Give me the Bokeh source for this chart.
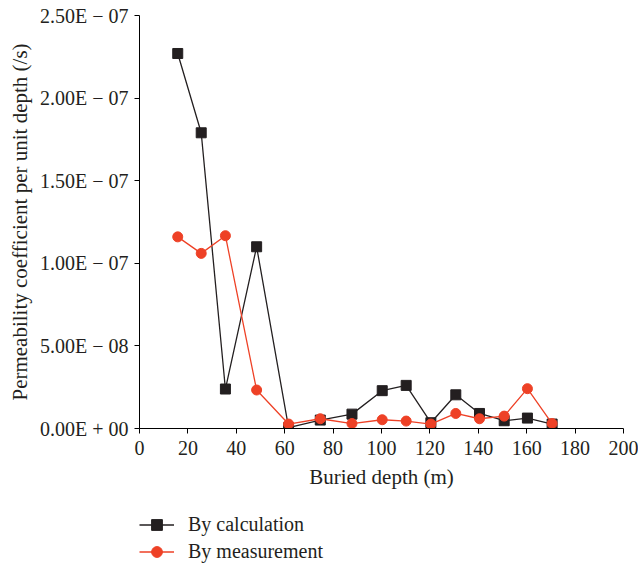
from bokeh.plotting import figure
from bokeh.layouts import column
from bokeh.models import Legend, LegendItem, FixedTicker, ColumnDataSource
from bokeh.embed import file_html
from bokeh.resources import INLINE

depth = [15.8, 25.5, 35.5, 48.4, 61.6, 74.7, 87.8, 100.3, 110.2, 120.4, 130.7, 140.5, 150.7, 160.3, 170.5]
calc = [2.27e-7, 1.79e-7, 2.39e-8, 1.10e-7, 0.5e-9, 5.1e-9, 8.7e-9, 2.29e-8, 2.61e-8, 3.5e-9, 2.04e-8, 9.1e-9, 4.7e-9, 6.3e-9, 2.7e-9]
meas = [1.16e-7, 1.06e-7, 1.167e-7, 2.33e-8, 2.7e-9, 5.9e-9, 3.0e-9, 5.3e-9, 4.5e-9, 2.7e-9, 9.1e-9, 5.9e-9, 7.5e-9, 2.41e-8, 3.0e-9]
series_names = ["By calculation", "By measurement"]

x_ticks = [0, 20, 40, 60, 80, 100, 120, 140, 160, 180, 200]
y_ticks = [0, 5e-8, 1e-7, 1.5e-7, 2e-7, 2.5e-7]
y_tick_labels = ["0.00E + 00", "5.00E \u2212 08", "1.00E \u2212 07", "1.50E \u2212 07", "2.00E \u2212 07", "2.50E \u2212 07"]

FONT = "Liberation Serif"
BLACK = "#231f20"
RED = "#ee4126"

p = figure(width=638, height=500, output_backend="svg", toolbar_location=None,
           x_range=(0, 200), y_range=(0, 2.5e-7),
           min_border_left=139, min_border_right=15, min_border_top=15, min_border_bottom=72)
p.outline_line_color = None
p.grid.grid_line_color = None

src = ColumnDataSource(dict(x=depth, calc=calc, meas=meas))

def draw(fig):
    a = fig.line("x", "calc", source=src, line_color=BLACK, line_width=1.3)
    b = fig.scatter("x", "calc", source=src, marker="square", size=10, fill_color=BLACK, line_color=BLACK)
    c = fig.line("x", "meas", source=src, line_color=RED, line_width=1.3)
    d = fig.scatter("x", "meas", source=src, marker="circle", size=10, fill_color=RED, line_color=RED)
    return a, b, c, d

draw(p)

for ax in (p.xaxis[0], p.yaxis[0]):
    ax.axis_line_color = "black"
    ax.axis_line_width = 1
    ax.major_tick_line_color = "black"
    ax.major_tick_out = 5
    ax.major_tick_in = 0
    ax.minor_tick_line_color = None
    ax.major_label_text_font = FONT
    ax.major_label_text_font_size = "20px"
    ax.major_label_text_color = BLACK
    ax.axis_label_text_font = FONT
    ax.axis_label_text_font_size = "21px"
    ax.axis_label_text_font_style = "normal"
    ax.axis_label_text_color = BLACK

p.xaxis.ticker = FixedTicker(ticks=x_ticks)
p.xaxis.major_label_standoff = 7
p.xaxis.axis_label = "Buried depth (m)"
p.xaxis.axis_label_standoff = 7

p.yaxis.ticker = FixedTicker(ticks=y_ticks)
p.yaxis.major_label_overrides = {t: s for t, s in zip(y_ticks, y_tick_labels)}
p.yaxis.major_label_standoff = 6
p.yaxis.axis_label = "Permeability coefficient per unit depth (/s)"
p.yaxis.axis_label_standoff = 5

# legend panel (series drawn out of its visible range; only the legend shows)
q = figure(width=638, height=67, output_backend="svg", toolbar_location=None,
           x_axis_type=None, y_axis_type=None, x_range=(-2, -1), y_range=(-2, -1),
           min_border_left=0, min_border_right=0, min_border_top=0, min_border_bottom=0)
q.outline_line_color = None
q.grid.grid_line_color = None
ql1, qs1, ql2, qs2 = draw(q)

legend = Legend(items=[LegendItem(label=series_names[0], renderers=[ql1, qs1]),
                       LegendItem(label=series_names[1], renderers=[ql2, qs2])],
                location=(0, 2), orientation="vertical",
                padding=0, spacing=0, margin=0,
                label_height=27, glyph_height=27, glyph_width=35, label_standoff=14,
                label_text_font=FONT, label_text_font_size="20px", label_text_color=BLACK,
                border_line_alpha=0, background_fill_alpha=0)
q.add_layout(legend, "center")

layout = column(p, q, spacing=0)
open("out.html", "w").write(file_html(layout, INLINE))
